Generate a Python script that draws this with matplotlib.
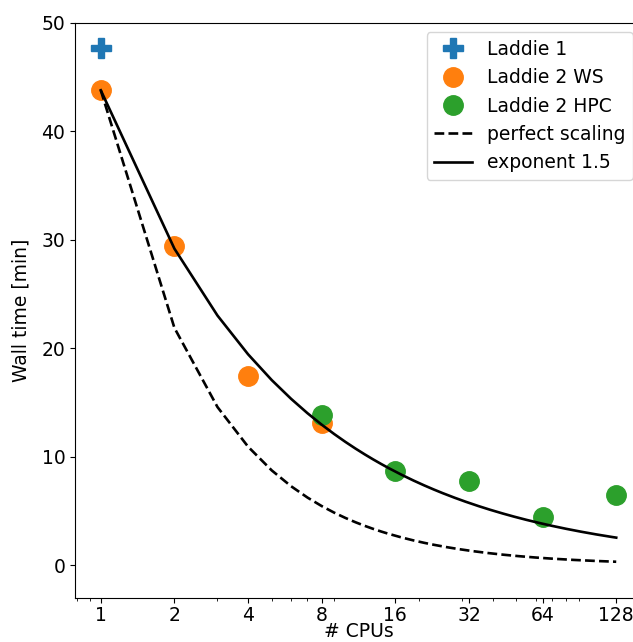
import numpy as np
import matplotlib
matplotlib.use('Agg')
import matplotlib.pyplot as plt

# measured wall times [min]
laddie1_cpus = [1]
laddie1_time = [47.7]

ws_cpus = [1, 2, 4, 8]
ws_time = [43.8, 29.4, 17.5, 13.1]

hpc_cpus = [8, 16, 32, 64, 128]
hpc_time = [13.9, 8.75, 7.83, 4.5, 6.54]

xticks = [1, 2, 4, 8, 16, 32, 64, 128]

# reference scaling curves, starting from the single-CPU WS run
ncpu = np.arange(1, 129)
t1 = ws_time[0]
perfect = t1 / ncpu
exp15 = t1 / 1.5 ** np.log2(ncpu)

plt.rcParams['font.size'] = 13.5

fig = plt.figure(figsize=(6.33, 6.42), dpi=100)
ax = fig.add_axes([75 / 633, 44 / 642, (642 - 75) / 633, (598 - 23) / 642])

ax.plot(laddie1_cpus, laddie1_time, 'P', color='C0', markersize=14, label='Laddie 1')
ax.plot(ws_cpus, ws_time, 'o', color='C1', markersize=14, label='Laddie 2 WS')
ax.plot(hpc_cpus, hpc_time, 'o', color='C2', markersize=14, label='Laddie 2 HPC')
ax.plot(ncpu, perfect, 'k--', lw=1.9, label='perfect scaling')
ax.plot(ncpu, exp15, 'k-', lw=1.9, label='exponent 1.5')

ax.set_xscale('log')
ax.set_xticks(xticks)
ax.set_xticklabels([str(x) for x in xticks])
ax.tick_params(axis='x', pad=2)
ax.set_ylim(-3, 50)
ax.set_xlabel('# CPUs', labelpad=-2)
ax.set_ylabel('Wall time [min]', labelpad=8)
ax.legend(loc='upper right')

fig.savefig('out.png', dpi=100)
